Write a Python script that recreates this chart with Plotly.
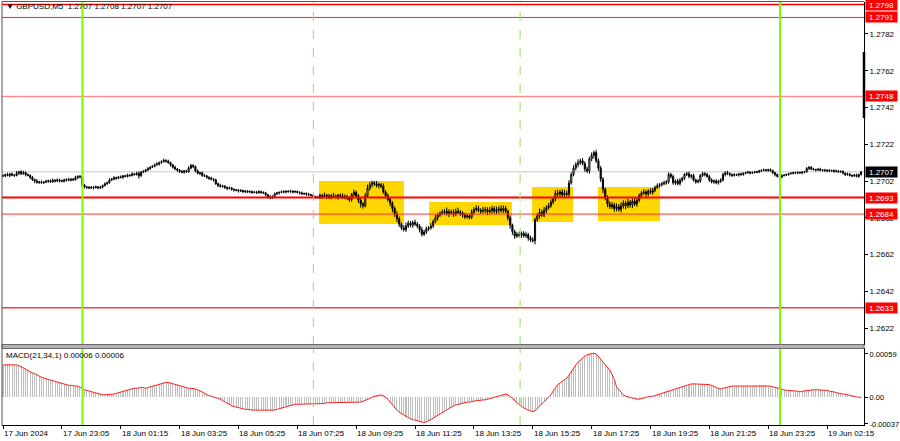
import plotly.graph_objects as go

# ---------------- data ----------------
BASE = 1.27000
# M5 closes, in 0.00001 offsets from 1.27000 (bar 0 = 17 Jun ~22:05)
close_pts = [
    48, 55, 50, 58, 52, 50,
    62, 70, 60, 66, 55, 50,
    40, 28, 20, 12, 15, 10, 14,
    18, 22, 16, 24, 20, 26, 22, 18, 25, 28, 24, 30, 27,
    38, 45, 42,
    -2, -12,
    -15, -18, -14, -16, -12, -17, -13,
    -5, 5, 10, 25,
    30, 38, 35, 42, 40, 48, 45, 52, 50, 58, 55, 62,
    48, 68, 72,
    80, 88, 95, 100, 108, 112, 120, 125, 132,
    128, 120, 108,
    95, 85, 80, 72,
    68, 75, 70,
    90, 105, 98,
    75, 62, 65, 50, 48, 40, 35, 30, 25,
    5, -5, -10, -8, -15, -20, -18, -25, -28,
    -30, -35, -32, -38, -35, -40, -38, -42, -40, -44, -38, -42, -45,
    -55, -65, -72, -68,
    -50, -45, -42, -38, -40, -36, -38, -35, -40, -37, -42,
    -45, -50, -48, -52, -55, -58,
    -65, -70, -68,
    -60, -65, -58, -62, -68, -60, -64, -66, -58, -62, -70, -65, -72, -80,
    -55, -42,
    -60, -85, -105, -115,
    -60, -20, 0, 10,
    5, -5, 0, -8,
    -40, -60, -80, -100,
    -130, -160, -185,
    -215, -235, -245, -225,
    -210, -220, -205, -215, -225,
    -245, -270, -258,
    -240, -235, -225,
    -200, -180, -165, -155,
    -150, -145, -158, -148, -152, -160, -145, -150, -155,
    -165, -175, -170, -178,
    -150, -135, -130, -140, -145,
    -140, -135, -148, -142, -130, -145, -138, -132, -140, -128, -145,
    -180, -220, -255, -280,
    -270, -275, -265, -278, -272,
    -290, -300, -305,
    -190,
    -170, -150, -165, -140, -125, -115,
    -95, -78,
    -45, -50, -40, -55, -48, -52,
    10, 55,
    90, 110, 120, 130, 115,
    85, 75,
    140, 160, 175,
    130, 90,
    30, -25,
    -70, -105, -120,
    -110, -130, -120, -135, -115,
    -100, -115, -95, -110, -90, -105, -85,
    -60, -45, -40, -50, -35, -42, -30,
    -15, -5, 0, 5, 10, 15,
    55, 45,
    10, 20, 5, 25, 35,
    55, 60, 45, 50,
    25, 15, 20,
    50, 60, 55, 45,
    25, 15, 20, 10, 18, 25,
    55, 65, 60, 55,
    50, 55, 52, 58, 55,
    62, 65, 68, 64, 66, 70, 68,
    75, 78, 80, 78, 82, 76,
    65, 55, 45, 40,
    50, 52, 55,
    60, 62, 65, 63, 66, 64, 68, 70,
    88, 95,
    85, 82, 80, 84, 78, 80, 76, 78, 75, 77, 72, 74, 70, 72,
    62, 55, 58, 50, 48, 52, 45, 55, 70,
]

# upper / lower shadow lengths per bar (0.00001 units)
upper_wick = [
    8, 5, 10, 6, 8, 5,
    12, 6, 8, 10, 5, 6,
    6, 8, 5, 10, 6, 8, 5,
    8, 5, 6, 10, 5, 8, 6, 5, 8, 6, 10, 5, 6,
    10, 6, 8,
    8, 5,
    6, 8, 5, 6, 8, 5, 6,
    5, 8, 6, 10,
    6, 8, 5, 6, 8, 5, 6, 8, 5, 10, 6, 8,
    10, 6, 8,
    6, 8, 5, 6, 8, 10, 6, 8, 10,
    6, 8, 5,
    5, 8, 6, 5,
    8, 5, 6,
    10, 8, 6,
    6, 8, 5, 6, 8, 5, 6, 8, 5,
    8, 6, 10, 8, 6, 5, 8, 6, 5,
    5, 6, 8, 5, 6, 5, 8, 6, 5, 6, 8, 5, 6,
    6, 5, 8, 10,
    8, 6, 5, 6, 8, 5, 6, 8, 5, 6, 5,
    6, 8, 5, 6, 8, 5,
    6, 5, 8,
    12, 10, 15, 8, 12, 10, 15, 12, 8, 10, 15, 12, 10, 8,
    10, 15,
    10, 8, 12, 10,
    15, 20, 15, 12,
    10, 15, 12, 10,
    15, 10, 12, 8,
    10, 12, 15,
    12, 10, 15, 20,
    15, 12, 10, 15, 12,
    10, 15, 12,
    12, 10, 15,
    10, 15, 12, 10,
    15, 12, 20, 15, 12, 18, 15, 20, 12,
    10, 12, 15, 10,
    15, 12, 18, 15, 12,
    18, 15, 12, 20, 15, 12, 18, 15, 20, 15, 12,
    10, 12, 8, 10,
    12, 15, 10, 12, 15,
    10, 12, 15,
    10,
    15, 20, 15, 18, 12, 15,
    15, 12,
    15, 18, 12, 15, 20, 15,
    15, 12,
    15, 12, 18, 12, 15,
    12, 15,
    12, 15, 10,
    15, 12,
    12, 10,
    10, 12, 15,
    15, 12, 18, 15, 20,
    15, 12, 18, 12, 15, 18, 12,
    12, 10, 15, 12, 10, 15, 12,
    10, 12, 8, 10, 12, 10,
    12, 10,
    10, 8, 12, 10, 8,
    8, 10, 12, 8,
    10, 8, 10,
    8, 10, 8, 10,
    8, 10, 8, 10, 8, 10,
    10, 8, 10, 8,
    6, 8, 5, 6, 8,
    5, 6, 8, 5, 6, 5, 6,
    6, 5, 8, 6, 5, 6,
    6, 5, 6, 8,
    6, 5, 6,
    5, 6, 5, 6, 8, 5, 6, 5,
    8, 6,
    5, 6, 5, 6, 8, 5, 6, 5, 6, 5, 6, 8, 5, 6,
    6, 5, 8, 6, 5, 6, 8, 6, 5,
]
lower_wick = [
    6, 8, 5, 10, 6, 8,
    5, 10, 8, 6, 10, 5,
    10, 8, 12, 6, 8, 5, 6,
    5, 8, 6, 5, 8, 6, 10, 5, 6, 8, 5, 6, 8,
    5, 8, 6,
    10, 8,
    8, 5, 6, 10, 5, 8, 6,
    8, 5, 6, 5,
    5, 6, 8, 5, 6, 8, 5, 6, 8, 5, 6, 5,
    15, 5, 6,
    5, 6, 8, 5, 6, 5, 8, 6, 5,
    8, 6, 10,
    8, 6, 10, 8,
    6, 8, 5,
    5, 6, 8,
    8, 6, 10, 8, 6, 8, 10, 6, 8,
    6, 8, 5, 6, 8, 10, 6, 8, 10,
    6, 8, 5, 6, 8, 5, 6, 8, 5, 6, 5, 8, 6,
    8, 10, 6, 5,
    5, 6, 8, 5, 6, 8, 5, 6, 8, 5, 6,
    8, 5, 6, 8, 5, 6,
    8, 6, 5,
    10, 12, 8, 15, 10, 12, 8, 10, 15, 12, 8, 10, 12, 15,
    12, 8,
    12, 15, 20, 15,
    8, 10, 12, 15,
    12, 10, 15, 12,
    10, 15, 12, 18,
    20, 15, 18,
    15, 12, 10, 12,
    10, 12, 15, 10, 12,
    15, 12, 10,
    10, 12, 10,
    12, 10, 15, 10,
    12, 15, 10, 18, 12, 15, 12, 10, 15,
    15, 12, 10, 12,
    10, 15, 12, 10, 15,
    12, 15, 18, 10, 15, 12, 15, 18, 12, 15, 10,
    15, 20, 18, 15,
    10, 12, 15, 10, 12,
    15, 12, 10,
    20,
    12, 15, 10, 12, 15, 10,
    10, 12,
    12, 15, 18, 12, 15, 12,
    15, 10,
    10, 12, 15, 12, 10,
    15, 12,
    15, 12, 18,
    12, 15,
    15, 20,
    15, 18, 12,
    12, 18, 15, 12, 15,
    15, 18, 12, 15, 18, 12, 15,
    10, 12, 10, 15, 12, 10, 12,
    10, 8, 12, 10, 8, 10,
    10, 12,
    10, 12, 8, 10, 12,
    10, 8, 10, 12,
    8, 10, 8,
    10, 8, 10, 8,
    10, 8, 10, 8, 10, 8,
    8, 10, 8, 10,
    8, 6, 5, 8, 6,
    6, 5, 6, 8, 5, 6, 5,
    5, 6, 5, 6, 8, 5,
    8, 10, 6, 5,
    5, 6, 5,
    6, 5, 6, 5, 6, 5, 8, 6,
    5, 8,
    6, 5, 8, 6, 5, 6, 5, 8, 6, 5, 6, 5, 6, 5,
    5, 8, 6, 5, 8, 6, 5, 8, 5,
]

# MACD(21,34,1) main value per bar, in units of 0.00001
macd_pts = [
    44, 44, 45, 45, 45, 44, 44, 43, 42,
    40, 38, 36, 34, 33, 32, 30, 29, 27, 26,
    25, 24, 23, 22, 21, 20, 19, 19, 18, 17, 16, 16, 15, 15, 15, 14,
    12, 10, 9, 8, 7, 6, 5, 4, 4,
    3, 3, 3, 3, 3, 4, 5,
    6, 7, 8, 9, 10, 11, 12, 12, 12, 13, 13, 13, 12, 13,
    14, 15, 16, 17, 18, 19, 20, 20, 20, 19,
    18, 17, 16, 15, 14, 13, 12, 12, 12, 12, 11, 10, 9,
    7, 5, 3, 2, 1, 0, 0, -1,
    -3, -5, -7, -9, -11, -12, -13, -14, -15, -15,
    -16, -17, -17, -18, -18, -18, -18, -18, -18, -19, -19, -18, -19, -19,
    -18, -17, -16, -15, -14, -13, -12, -11, -11, -10, -10, -10, -10, -9, -9, -10, -10, -10, -10, -9,
    -9, -9, -9, -8, -8, -8, -8, -8, -8, -8, -8, -8, -8, -7, -7, -7, -7, -7, -7, -6, -5, -4,
    -2, 0, 1, 2, 3, 3, 2, 0, -3, -7,
    -11, -15, -18, -21, -23, -25, -27, -29, -30, -31, -32, -33, -34, -34, -35, -34, -33, -31,
    -29, -27, -25, -23, -21, -19, -17, -15,
    -14, -12, -11, -10, -9, -8, -8, -7, -7, -6, -6, -5, -5, -4, -4, -4, -3, -2,
    -1, 0, 1, 2, 3, 4, 4, 3,
    1, -2, -5, -8, -11, -13, -15, -17, -18, -19, -20, -19, -16, -13, -10, -7, -4,
    -1, 3, 8, 13, 17, 19, 21, 23, 26, 30, 35, 40, 44, 48, 51, 54, 56, 58, 59, 60, 60, 59,
    56, 52, 48, 44, 41, 37, 31, 24, 14, 10, 6, 3, 1, 0, -1, -2, -3,
    -3, -3, -2, -2, -1, 0, 1, 1, 2, 3, 4, 5, 7, 8, 9, 10, 11, 11, 12,
    14, 15, 16, 17, 17, 18, 18, 18, 18, 18, 18, 18, 18, 17, 16, 14, 13, 12, 11,
    12, 13, 14, 14, 15, 15, 15, 15, 15, 15, 15, 15, 15, 15, 15, 15, 16, 16, 16,
    16, 15, 15, 14, 13, 12, 11, 10, 10, 9, 9, 9, 8, 8, 8, 7,
    8, 8, 9, 9, 10, 10, 10, 10, 10, 10, 9, 9, 8, 8, 7, 6, 5, 5, 4, 4, 3, 2, 2, 1, 0, 0, -1,
]

time_labels = ["17 Jun 2024", "17 Jun 23:05", "18 Jun 01:15", "18 Jun 03:25", "18 Jun 05:25",
               "18 Jun 07:25", "18 Jun 09:25", "18 Jun 11:25", "18 Jun 13:25", "18 Jun 15:25",
               "18 Jun 17:25", "18 Jun 19:25", "18 Jun 21:25", "18 Jun 23:25", "19 Jun 02:15"]
label_bars = [26 * k for k in range(len(time_labels))]

price_ticks = [1.2782, 1.2762, 1.2742, 1.2722, 1.2702, 1.2682, 1.2662, 1.2642, 1.2622]
levels = [1.2798, 1.2791, 1.2748, 1.2693, 1.2684, 1.2633]
bid = 1.2707
day_lines = [35.1, 343.2]          # bar positions of solid green separators
dash_lines = [137.1, 228.4]        # bar positions of dashed green separators
# yellow zones: (bar start, bar end, price low, price high)
zones = [(139.6, 177.1, 1.26786, 1.27020),
         (188.2, 224.8, 1.26781, 1.26906),
         (233.7, 251.8, 1.26797, 1.26987),
         (262.8, 290.2, 1.26802, 1.26987)]
macd_ticks = [0.00059, 0.0, -0.00037]
macd_ticktext = ["0.00059", "0.00", "-0.00037"]

# ---------------- build ----------------
n = len(close_pts)
assert len(upper_wick) == n and len(lower_wick) == n and len(macd_pts) == n, (
    n, len(upper_wick), len(lower_wick), len(macd_pts))
idx = list(range(n))
closes = [BASE + c / 100000 for c in close_pts]
opens = [closes[0]] + closes[:-1]
highs = [max(o, c) + u / 100000 for o, c, u in zip(opens, closes, upper_wick)]
lows = [min(o, c) - l / 100000 for o, c, l in zip(opens, closes, lower_wick)]
macd = [m / 100000 for m in macd_pts]

W, H = 900, 441
def py(p):
    return 1 - p / H
def px(p):
    return p / W

FONT = "Liberation Sans"
FS = 8
x0_pix, x1_pix = 2, 864
bar_w = 2.264
xr = [(x0_pix - 3) / bar_w, (x1_pix - 3) / bar_w]

fig = go.Figure()
fig.add_trace(go.Candlestick(
    x=idx, open=opens, high=highs, low=lows, close=closes,
    increasing=dict(line=dict(color="black", width=1), fillcolor="white"),
    decreasing=dict(line=dict(color="black", width=1), fillcolor="black"),
    whiskerwidth=0, showlegend=False, hoverinfo="skip", xaxis="x", yaxis="y"))

fig.add_trace(go.Bar(x=idx, y=macd, marker=dict(color="#BDBDBD", line=dict(width=0)),
                     width=0.45, showlegend=False, hoverinfo="skip", xaxis="x2", yaxis="y2"))
fig.add_trace(go.Scatter(x=idx, y=macd, mode="lines", line=dict(color="#FF2020", width=1),
                         showlegend=False, hoverinfo="skip", xaxis="x2", yaxis="y2"))

shapes = []
for (a, b, lo, hi) in zones:
    shapes.append(dict(type="rect", xref="x", yref="y", x0=a, x1=b, y0=lo, y1=hi,
                       fillcolor="#FFD700", line=dict(width=0), layer="below"))
shapes.append(dict(type="line", xref="x domain", yref="y", x0=0, x1=1, y0=bid, y1=bid,
                   line=dict(color="#C8C8C8", width=1), layer="below"))
lv_style = {1.2798: ("#FF0000", 1.5), 1.2791: ("#FF2020", 1), 1.2748: ("#FF8A8A", 1.5),
            1.2693: ("#FF0000", 2), 1.2684: ("#FF3030", 1), 1.2633: ("#FF3A3A", 1.5)}
for lv in levels:
    col, wd = lv_style[lv]
    shapes.append(dict(type="line", xref="x domain", yref="y", x0=0, x1=1, y0=lv, y1=lv,
                       line=dict(color=col, width=wd)))
for xv in day_lines:
    for ya in ("y", "y2"):
        shapes.append(dict(type="line", xref="x", yref=ya + " domain", x0=xv, x1=xv, y0=0, y1=1,
                           line=dict(color="#7CFC00", width=2)))
for xv in dash_lines:
    for ya in ("y", "y2"):
        shapes.append(dict(type="line", xref="x", yref=ya + " domain", x0=xv, x1=xv, y0=0, y1=1,
                           line=dict(color="#8EE85A", width=1, dash="dash")))
# panel frames
shapes.append(dict(type="rect", xref="paper", yref="paper", x0=px(2), x1=px(864),
                   y0=py(348.5), y1=py(344.5), fillcolor="#B4B4B4", line=dict(color="#6A6A6A", width=1)))
shapes.append(dict(type="line", xref="paper", yref="paper", x0=px(2), x1=px(864),
                   y0=py(1.5), y1=py(1.5), line=dict(color="#555555", width=1)))
shapes.append(dict(type="line", xref="paper", yref="paper", x0=px(2), x1=px(2),
                   y0=py(426), y1=py(1.5), line=dict(color="#555555", width=1)))
shapes.append(dict(type="line", xref="paper", yref="paper", x0=px(864), x1=px(864),
                   y0=py(118), y1=py(52), line=dict(color="black", width=2.5)))

ann = []
ann.append(dict(xref="paper", yref="paper", x=px(4), y=py(7), xanchor="left", yanchor="middle",
                text="\u25BC GBPUSD,M5  1.2707 1.2708 1.2707 1.2707", showarrow=False,
                font=dict(family=FONT, size=FS, color="black")))
ann.append(dict(xref="paper", yref="paper", x=px(4), y=py(355), xanchor="left", yanchor="middle",
                text="MACD(21,34,1) 0.00006 0.00006", showarrow=False,
                font=dict(family=FONT, size=FS, color="black")))
for b, t in zip(label_bars, time_labels):
    ann.append(dict(xref="x2", yref="paper", x=b, y=py(433), xanchor="left", yanchor="middle",
                    xshift=-1, text=t, showarrow=False,
                    font=dict(family=FONT, size=FS, color="black")))
for lv in levels:
    ann.append(dict(xref="paper", yref="y", x=px(865), y=lv, xanchor="left", yanchor="middle",
                    text=f"{lv:.4f}", showarrow=False, bgcolor="#FF0000", borderpad=0,
                    width=31, height=10,
                    font=dict(family=FONT, size=FS, color="white")))
ann.append(dict(xref="paper", yref="y", x=px(865), y=bid, xanchor="left", yanchor="middle",
                text=f"{bid:.4f}", showarrow=False, bgcolor="black", borderpad=0,
                width=31, height=10, font=dict(family=FONT, size=FS, color="white")))

fig.update_layout(
    template="none",
    width=W, height=H, margin=dict(l=0, r=0, t=0, b=0, pad=0), autosize=False,
    paper_bgcolor="white", plot_bgcolor="white", showlegend=False, bargap=0,
    font=dict(family=FONT, size=FS, color="black"),
    xaxis=dict(domain=[px(x0_pix), px(x1_pix)], range=xr, anchor="y", showticklabels=False,
               showgrid=False, zeroline=False, rangeslider=dict(visible=False), ticks="",
               automargin=False),
    yaxis=dict(domain=[py(345), py(2)], range=[1.261275, 1.279941], side="right", anchor="x",
               tickvals=price_ticks, ticktext=[f"{v:.4f}" for v in price_ticks],
               ticks="outside", ticklen=3, tickcolor="black", showgrid=False, zeroline=False,
               showline=True, linecolor="black", linewidth=1, automargin=False,
               tickfont=dict(family=FONT, size=FS, color="black")),
    xaxis2=dict(domain=[px(x0_pix), px(x1_pix)], range=xr, anchor="y2", showticklabels=False,
                tickvals=label_bars, ticks="outside", ticklen=3, tickcolor="black",
                showgrid=False, zeroline=False, showline=True, linecolor="black", linewidth=1,
                automargin=False),
    yaxis2=dict(domain=[py(425), py(348)], range=[-0.000384, 0.000672], side="right", anchor="x2",
                tickvals=macd_ticks, ticktext=macd_ticktext, ticks="outside", ticklen=3,
                tickcolor="black", showgrid=False, zeroline=False, showline=True,
                linecolor="black", linewidth=1, automargin=False,
                tickfont=dict(family=FONT, size=7.5, color="black")),
    shapes=shapes, annotations=ann,
)

fig.write_html(
    "out.html",
    config={"displayModeBar": False, "staticPlot": True},
    post_script="document.documentElement.style.margin='0';document.body.style.margin='0';"
                "document.body.style.padding='0';document.body.style.overflow='hidden';",
)
